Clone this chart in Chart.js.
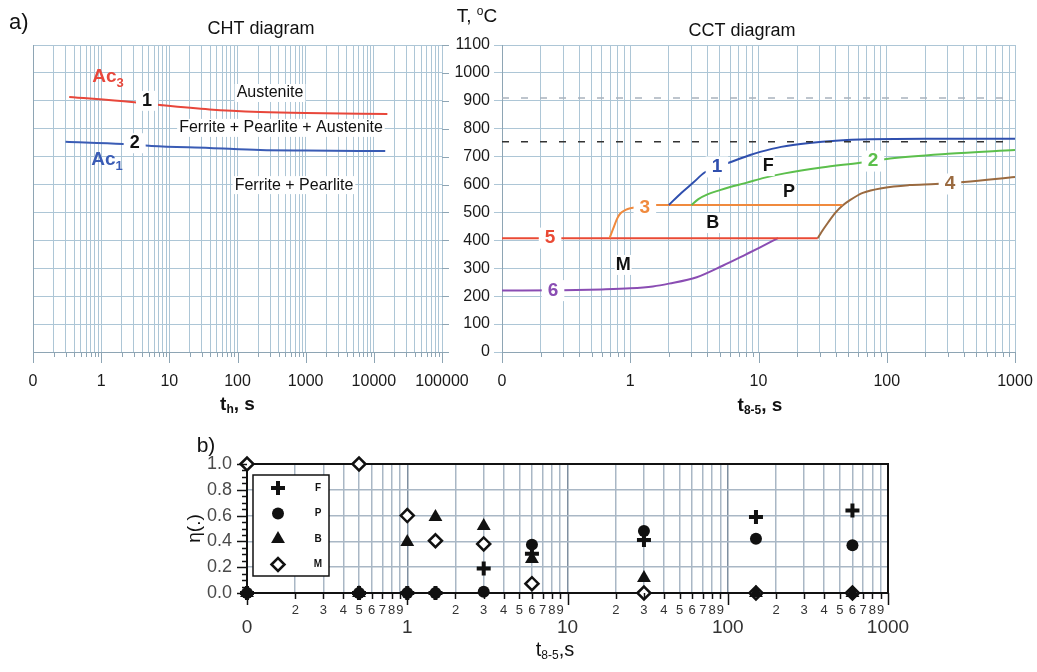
<!DOCTYPE html>
<html>
<head>
<meta charset="utf-8">
<script src="https://cdn.jsdelivr.net/npm/chart.js@4.4.0/dist/chart.umd.min.js"></script>
<style>
  html, body { margin: 0; padding: 0; background: #fff; }
  #page { position: relative; width: 1037px; height: 672px; overflow: hidden; }
  canvas { position: absolute; }
</style>
</head>
<body>
<div id="page">
  <canvas id="cht" width="470" height="420" style="left:0;top:0"></canvas>
  <canvas id="cct" width="595" height="420" style="left:442px;top:0"></canvas>
  <canvas id="frac" width="740" height="242" style="left:180px;top:430px"></canvas>
</div>
<script>
// ---- CHT diagram: Ac3 / Ac1 against heating time th (s)
const chtAc3T = [0.34, 2.8, 7.3, 39, 215, 1000, 15800];
const chtAc3  = [914, 896, 885, 869, 860, 856, 853];
const chtAc1T = [0.3, 2.1, 5.5, 39, 215, 1000, 14700];
const chtAc1  = [753, 745, 738, 731, 724, 722, 720];

// ---- CCT diagram: curves 1..6 against t8-5 (s)
const cct1T = [2.0, 2.5, 3.1, 3.8, 4.7, 6.1, 8.6, 10.3, 15, 25, 40, 74, 200, 1000];
const cct1  = [527, 570, 607, 643, 663, 681, 706, 717, 735, 749, 757, 762, 764, 764];
const cct2T = [3.0, 3.4, 4, 5, 6, 8, 11, 16, 31, 62, 106, 300, 1000];
const cct2  = [527, 548, 565, 580, 591, 606, 624, 640, 661, 678, 693, 710, 724];
const cct3T = [0.69, 0.74, 0.79, 0.84, 0.92, 1.0, 1.3, 1.6, 45];
const cct3  = [408, 445, 478, 497, 509, 515, 522, 527, 527];
const cct4T = [29, 31, 35, 40, 45, 52, 65, 94, 150, 240, 400, 1000];
const cct4  = [408, 430, 465, 500, 524, 545, 570, 588, 598, 602, 609, 627];
const cct5T = [0.1, 29];
const cct5  = [408, 408];
const cct6T = [0.1, 0.3, 0.6, 1.0, 1.5, 2.0, 3.3, 5.3, 8, 10.3, 14.2];
const cct6  = [220, 221, 224, 228, 235, 245, 268, 310, 350, 375, 408];
const levelT = [0.1, 1000];
const levelAc3 = [910, 910];
const levelAc1 = [753, 753];

// ---- b) phase fractions against t8-5 (s); 0.1 is the "0" position
const fracT = [0.1, 0.5, 1.0, 1.5, 3.0, 6.0, 30, 150, 600];
const fracF = [0, 0, 0, 0, 0.19, 0.305, 0.41, 0.59, 0.64];
const fracP = [0, 0, 0, 0, 0.01, 0.375, 0.48, 0.42, 0.37];
const fracB = [0, 0, 0.395, 0.59, 0.52, 0.264, 0.116, 0, 0];
const fracM = [1, 1, 0.6, 0.405, 0.38, 0.072, 0, 0, 0];

// text labels, placed in data units
const chtNotes = [
  { text: 'Austenite', t: 300, T: 928 },
  { text: 'Ferrite + Pearlite + Austenite', t: 434, T: 803 },
  { text: 'Ferrite + Pearlite', t: 674, T: 598 }
];
const chtTags = [
  { text: '1', t: 4.7, T: 900 },
  { text: '2', t: 3.1, T: 748 }
];
const cctTags = [
  { text: '1', t: 4.74, T: 663, color: '#2f4fae' },
  { text: '2', t: 78, T: 684, color: '#5cbf4c' },
  { text: '3', t: 1.3, T: 516, color: '#f08a3e' },
  { text: '4', t: 311, T: 602, color: '#9a6a40' },
  { text: '5', t: 0.237, T: 408, color: '#ea4a35' },
  { text: '6', t: 0.25, T: 220, color: '#8a4db3' }
];
const cctZones = [
  { text: 'F', t: 11.9, T: 666 },
  { text: 'P', t: 17.3, T: 573 },
  { text: 'B', t: 4.4, T: 462 },
  { text: 'M', t: 0.88, T: 312 }
];

const FONT = '"Liberation Sans", Arial, Helvetica, sans-serif';
const GRID = '#adc6d6';

function logGrid(fromExp, toExp) {
  const v = [];
  for (let e = fromExp; e < toExp; e++) {
    for (let m = 1; m <= 9; m++) v.push(Number((m * Math.pow(10, e)).toPrecision(6)));
  }
  v.push(Math.pow(10, toExp));
  return v;
}
function isDecade(v) {
  const l = Math.log10(v);
  return Math.abs(l - Math.round(l)) < 1e-9;
}
function xy(xs, ys) {
  return xs.map((x, i) => ({ x: x, y: ys[i] }));
}
function curve(data, color) {
  return { data: data, borderColor: color, borderWidth: 2, pointRadius: 0, fill: false,
           cubicInterpolationMode: 'monotone' };
}
function dashed(data, color) {
  return { data: data, borderColor: color, borderWidth: 1.5, borderDash: [7, 12], pointRadius: 0, fill: false };
}
// fix an axis box size and drop the label overhang padding
function fixX(h) {
  return s => { s.height = h; s.paddingLeft = 0; s.paddingRight = 0; };
}
function fixY(w) {
  return s => { s.width = w; s.paddingTop = 0; s.paddingBottom = 0; };
}

// text with sub/superscripts: runs of {text, font, dy}
function drawRuns(ctx, runs, x, y, color) {
  let total = 0;
  runs.forEach(r => { ctx.font = r.font; r.w = ctx.measureText(r.text).width; total += r.w; });
  let cx = x - total / 2;
  ctx.fillStyle = color;
  ctx.textAlign = 'left';
  ctx.textBaseline = 'middle';
  runs.forEach(r => { ctx.font = r.font; ctx.fillText(r.text, cx, y + (r.dy || 0)); cx += r.w; });
}
// label on a white patch
function tag(ctx, text, x, y, size, bold, color, pad) {
  ctx.font = (bold ? 'bold ' : '') + size + 'px ' + FONT;
  const w = ctx.measureText(text).width;
  ctx.fillStyle = '#fff';
  ctx.fillRect(x - w / 2 - pad, y - size / 2 - 1, w + 2 * pad, size + 2);
  ctx.fillStyle = color;
  ctx.textAlign = 'center';
  ctx.textBaseline = 'middle';
  ctx.fillText(text, x, y);
}
function drawLogTicks(ctx, scale, y0, majorLen, minorLen, color, width) {
  ctx.strokeStyle = color;
  ctx.lineWidth = width;
  scale.ticks.forEach(t => {
    const px = Math.round(scale.getPixelForValue(t.value)) + 0.5;
    ctx.beginPath();
    ctx.moveTo(px, y0);
    ctx.lineTo(px, y0 + (isDecade(t.value) ? majorLen : minorLen));
    ctx.stroke();
  });
}

function topXScale(minExp, maxExp) {
  return {
    type: 'logarithmic', min: Math.pow(10, minExp), max: Math.pow(10, maxExp),
    afterBuildTicks: s => { s.ticks = logGrid(minExp, maxExp).map(v => ({ value: v })); },
    afterFit: fixX(68),
    grid: { color: GRID, drawTicks: false },
    border: { color: '#8ea5b4' },
    ticks: { autoSkip: false, maxRotation: 0, padding: 20, color: '#1a1a1a',
             font: { family: FONT, size: 16 },
             callback: v => v === 0.1 ? '0' : (isDecade(v) ? String(v) : '') }
  };
}

// ---------------- a) CHT diagram
const chtDecor = {
  id: 'chtDecor',
  afterDraw(chart) {
    const ctx = chart.ctx, xs = chart.scales.x, ys = chart.scales.y, a = chart.chartArea;
    ctx.save();
    drawLogTicks(ctx, xs, a.bottom, 11, 5, '#8ea5b4', 1);
    ctx.strokeStyle = '#8ea5b4';
    ys.ticks.forEach(t => {
      const py = Math.round(ys.getPixelForValue(t.value)) + 0.5;
      ctx.beginPath(); ctx.moveTo(a.right, py); ctx.lineTo(a.right + 7, py); ctx.stroke();
    });
    ctx.fillStyle = '#111';
    ctx.textAlign = 'left'; ctx.textBaseline = 'middle';
    ctx.font = '22px ' + FONT;
    ctx.fillText('a)', 9, 23);
    ctx.textAlign = 'center';
    ctx.font = '18px ' + FONT;
    ctx.fillText('CHT diagram', 261, 29);
    drawRuns(ctx, [
      { text: 't', font: 'bold 19px ' + FONT },
      { text: 'h', font: 'bold 12px ' + FONT, dy: 5 },
      { text: ', s', font: 'bold 19px ' + FONT }
    ], (a.left + a.right) / 2, 405, '#111');
    chtNotes.forEach(n => tag(ctx, n.text, xs.getPixelForValue(n.t), ys.getPixelForValue(n.T), 16, false, '#111', 2));
    chtTags.forEach(n => tag(ctx, n.text, xs.getPixelForValue(n.t), ys.getPixelForValue(n.T), 18, true, '#111', 6));
    drawRuns(ctx, [
      { text: 'Ac', font: 'bold 19px ' + FONT },
      { text: '3', font: 'bold 13px ' + FONT, dy: 6 }
    ], xs.getPixelForValue(1.26), ys.getPixelForValue(985), '#e8473b');
    drawRuns(ctx, [
      { text: 'Ac', font: 'bold 19px ' + FONT },
      { text: '1', font: 'bold 13px ' + FONT, dy: 6 }
    ], xs.getPixelForValue(1.22), ys.getPixelForValue(688), '#3a5cb5');
    ctx.restore();
  }
};

new Chart(document.getElementById('cht'), {
  type: 'line',
  data: { datasets: [
    curve(xy(chtAc3T, chtAc3), '#e8473b'),
    curve(xy(chtAc1T, chtAc1), '#3a5cb5')
  ] },
  options: {
    responsive: false, animation: false, devicePixelRatio: 1,
    layout: { padding: { top: 45, left: 0, right: 28, bottom: 0 } },
    plugins: { legend: { display: false }, tooltip: { enabled: false } },
    scales: {
      x: topXScale(-1, 5),
      y: { min: 0, max: 1100, ticks: { display: false, stepSize: 100 },
           afterFit: fixY(33),
           grid: { color: GRID, drawTicks: false }, border: { color: '#8ea5b4' } }
    }
  },
  plugins: [chtDecor]
});

// ---------------- a) CCT diagram
const cctDecor = {
  id: 'cctDecor',
  afterDraw(chart) {
    const ctx = chart.ctx, xs = chart.scales.x, ys = chart.scales.y, a = chart.chartArea;
    ctx.save();
    drawLogTicks(ctx, xs, a.bottom, 11, 5, '#8ea5b4', 1);
    ctx.fillStyle = '#111';
    ctx.textAlign = 'center'; ctx.textBaseline = 'middle';
    ctx.font = '18px ' + FONT;
    ctx.fillText('CCT diagram', 300, 31);
    drawRuns(ctx, [
      { text: 'T, ', font: '19px ' + FONT },
      { text: 'o', font: '12px ' + FONT, dy: -5 },
      { text: 'C', font: '19px ' + FONT }
    ], 35, 17, '#111');
    drawRuns(ctx, [
      { text: 't', font: 'bold 19px ' + FONT },
      { text: '8-5', font: 'bold 12px ' + FONT, dy: 5 },
      { text: ', s', font: 'bold 19px ' + FONT }
    ], 318, 406, '#111');
    cctTags.forEach(n => tag(ctx, n.text, xs.getPixelForValue(n.t), ys.getPixelForValue(n.T), 19, true, n.color, 6));
    cctZones.forEach(n => tag(ctx, n.text, xs.getPixelForValue(n.t), ys.getPixelForValue(n.T), 18, true, '#111', 1));
    ctx.restore();
  }
};

new Chart(document.getElementById('cct'), {
  type: 'line',
  data: { datasets: [
    dashed(xy(levelT, levelAc3), '#a9b3bd'),
    dashed(xy(levelT, levelAc1), '#333'),
    curve(xy(cct1T, cct1), '#2f4fae'),
    curve(xy(cct2T, cct2), '#5cbf4c'),
    curve(xy(cct3T, cct3), '#f08a3e'),
    curve(xy(cct4T, cct4), '#9a6a40'),
    curve(xy(cct5T, cct5), '#ea4a35'),
    curve(xy(cct6T, cct6), '#8a4db3')
  ] },
  options: {
    responsive: false, animation: false, devicePixelRatio: 1,
    layout: { padding: { top: 45, left: 0, right: 22, bottom: 0 } },
    plugins: { legend: { display: false }, tooltip: { enabled: false } },
    scales: {
      x: topXScale(-1, 3),
      y: { min: 0, max: 1100,
           ticks: { stepSize: 100, padding: 4, color: '#1a1a1a', font: { family: FONT, size: 16 },
                    callback: v => String(v) },
           afterFit: fixY(60),
           grid: { color: GRID, tickLength: 8 }, border: { color: '#8ea5b4' } }
    }
  },
  plugins: [cctDecor]
});

// ---------------- b) phase fractions
const fracStyles = [
  { label: 'F', data: fracF, pointStyle: 'cross', radius: 7, borderWidth: 4, fill: '#111' },
  { label: 'P', data: fracP, pointStyle: 'circle', radius: 6, borderWidth: 0, fill: '#111' },
  { label: 'B', data: fracB, pointStyle: 'triangle', radius: 8, borderWidth: 0, fill: '#111' },
  { label: 'M', data: fracM, pointStyle: 'rectRot', radius: 6.5, borderWidth: 2.5, fill: '#fff' }
];

function drawMarker(ctx, s, x, y) {
  ctx.fillStyle = s.fill;
  ctx.strokeStyle = '#111';
  ctx.lineWidth = s.borderWidth;
  Chart.helpers.drawPoint(ctx, { pointStyle: s.pointStyle, radius: s.radius, rotation: 0,
                                 borderWidth: s.borderWidth }, x, y);
}

const fracDecor = {
  id: 'fracDecor',
  beforeDatasetsDraw(chart) {
    const ctx = chart.ctx, a = chart.chartArea;
    ctx.save();
    ctx.strokeStyle = '#111';
    ctx.lineWidth = 2;
    ctx.strokeRect(a.left, a.top, a.right - a.left, a.bottom - a.top);
    ctx.restore();
  },
  afterDraw(chart) {
    const ctx = chart.ctx, xs = chart.scales.x, ys = chart.scales.y, a = chart.chartArea;
    ctx.save();
    drawLogTicks(ctx, xs, a.bottom, 12, 6, '#111', 1.5);
    // y ticks every 0.05, longer at labelled values
    ctx.strokeStyle = '#111';
    ctx.lineWidth = 1.5;
    for (let i = 0; i <= 20; i++) {
      const py = Math.round(ys.getPixelForValue(i * 0.05)) + 0.5;
      const len = i % 4 === 0 ? 10 : 5;
      ctx.beginPath(); ctx.moveTo(a.left - len, py); ctx.lineTo(a.left, py); ctx.stroke();
    }
    // x labels: digits for minor lines, decades below
    ctx.fillStyle = '#333';
    ctx.textAlign = 'center'; ctx.textBaseline = 'middle';
    xs.ticks.forEach(t => {
      const px = xs.getPixelForValue(t.value);
      if (isDecade(t.value)) {
        ctx.font = '19px ' + FONT;
        ctx.fillText(t.value === 0.1 ? '0' : String(t.value), px, a.bottom + 35);
      } else {
        const m = Math.round(t.value / Math.pow(10, Math.floor(Math.log10(t.value) + 1e-9)));
        ctx.font = '13px ' + FONT;
        ctx.fillText(String(m), px, a.bottom + 17);
      }
    });
    // legend
    const lx = a.left + 6, ly = a.top + 11;
    ctx.fillStyle = '#fff';
    ctx.fillRect(lx, ly, 76, 101);
    ctx.strokeStyle = '#111';
    ctx.lineWidth = 1.5;
    ctx.strokeRect(lx, ly, 76, 101);
    fracStyles.forEach((s, i) => {
      const my = ly + 13 + i * 25.5;
      drawMarker(ctx, s, lx + 25, my);
      ctx.fillStyle = '#111';
      ctx.font = 'bold 10px ' + FONT;
      ctx.textAlign = 'center'; ctx.textBaseline = 'middle';
      ctx.fillText(s.label, lx + 65, my);
    });
    // titles
    ctx.fillStyle = '#111';
    ctx.textAlign = 'center';
    ctx.font = '21px ' + FONT;
    ctx.fillText('b)', 26, 16);
    ctx.save();
    ctx.translate(15, (a.top + a.bottom) / 2);
    ctx.rotate(-Math.PI / 2);
    ctx.font = '19px ' + FONT;
    ctx.fillText('η(.)', 0, 0);
    ctx.restore();
    drawRuns(ctx, [
      { text: 't', font: '20px ' + FONT },
      { text: '8-5', font: '12px ' + FONT, dy: 6 },
      { text: ',s', font: '20px ' + FONT }
    ], 375, 220, '#111');
    ctx.restore();
  }
};

new Chart(document.getElementById('frac'), {
  type: 'scatter',
  data: { datasets: fracStyles.map(s => ({
    label: s.label, data: xy(fracT, s.data), showLine: false, clip: false,
    pointStyle: s.pointStyle, pointRadius: s.radius, pointBorderWidth: s.borderWidth,
    pointBackgroundColor: s.fill, pointBorderColor: '#111'
  })) },
  options: {
    responsive: false, animation: false, devicePixelRatio: 1,
    layout: { padding: { top: 34, left: 0, right: 32, bottom: 0 } },
    plugins: { legend: { display: false }, tooltip: { enabled: false } },
    scales: {
      x: { type: 'logarithmic', min: 0.1, max: 1000,
           afterBuildTicks: s => { s.ticks = logGrid(-1, 3).map(v => ({ value: v })); },
           afterFit: fixX(79),
           grid: { drawTicks: false, lineWidth: 1.5,
                   color: c => c.tick && isDecade(c.tick.value) ? '#7f8fa0' : '#a9b7c5' },
           border: { display: false },
           ticks: { display: false } },
      y: { min: 0, max: 1,
           ticks: { stepSize: 0.2, padding: 15, color: '#4a4a4a', font: { family: FONT, size: 18 },
                    callback: v => v.toFixed(1) },
           afterFit: fixY(67),
           grid: { drawTicks: false, lineWidth: 1.5, color: '#a9b7c5' },
           border: { display: false } }
    }
  },
  plugins: [fracDecor]
});
</script>
</body>
</html>
